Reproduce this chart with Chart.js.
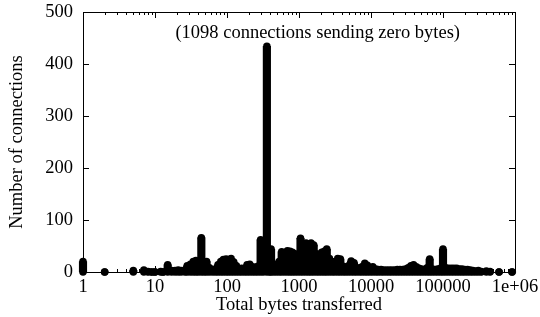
<!DOCTYPE html>
<html>
<head>
<meta charset="utf-8">
<script src="https://cdn.jsdelivr.net/npm/chart.js@4.4.1/dist/chart.umd.min.js"></script>
<style>
  html, body { margin: 0; padding: 0; background: #fff; }
  #wrap { width: 540px; height: 317px; }
</style>
</head>
<body>
<div id="wrap"><canvas id="bytesChart" width="540" height="317"></canvas></div>
<script>
// histogram of total bytes per connection (x = bytes, y = number of connections)
const bytes = [
    1, 2, 5, 7, 8, 9, 10, 12, 13, 15,
    17, 19, 21, 23, 26, 28, 31, 34, 37, 40,
    44, 48, 52, 57, 63, 69, 75, 82, 89, 97,
    105, 114, 124, 135, 147, 160, 175, 190, 207, 226,
    246, 268, 293, 320, 358, 390, 409, 445, 485, 530,
    575, 630, 690, 750, 810, 880, 960, 1049, 1140, 1250,
    1360, 1470, 1600, 1750, 1900, 2070, 2250, 2430, 2650, 2900,
    3150, 3450, 3750, 4100, 4450, 4850, 5300, 5800, 6300, 6900,
    7500, 8200, 8900, 9700, 10600, 11600, 12600, 13800, 15000, 16400,
    17900, 19500, 21300, 23200, 25300, 27600, 30100, 32800, 35800, 39000,
    42600, 46400, 50600, 55200, 60200, 65300, 71000, 77500, 84500, 92200,
    100000, 109000, 119000, 130000, 142000, 155000, 169000, 184000, 200000, 219000,
    239000, 260000, 284000, 310000, 340000, 400000, 450000, 600000, 910000
];
const connections = [
    20, 0, 3, 4, 1, 0, 0, 1, 0, 14,
    3, 3, 4, 3, 4, 12, 15, 20, 22, 18,
    66, 16, 20, 8, 5, 6, 14, 20, 24, 25,
    24, 26, 19, 12, 6, 7, 5, 14, 15, 10,
    9, 11, 62, 16, 434, 20, 44, 12, 15, 20,
    39, 36, 41, 40, 38, 35, 33, 65, 38, 56,
    54, 56, 52, 35, 30, 38, 40, 44, 26, 20,
    18, 26, 25, 11, 9, 12, 21, 18, 7, 8,
    10, 17, 13, 8, 10, 6, 5, 5, 4, 4,
    4, 4, 4, 5, 5, 5, 6, 8, 12, 14,
    10, 7, 6, 5, 8, 25, 6, 5, 6, 7,
    44, 8, 7, 7, 7, 7, 6, 6, 5, 5,
    4, 3, 2, 3, 1, 2, 1, 0, 0
];
const xTickValues = [1, 10, 100, 1000, 10000, 100000, 1000000];
const xTickLabels = ['1', '10', '100', '1000', '10000', '100000', '1e+06'];
const noteText = '(1098 connections sending zero bytes)';
const noteAt = { x: 1820, y: 460 };

const serif = { family: '"Liberation Serif", "Times New Roman", serif', size: 18.5 };
const lineW = 7.5;

// gnuplot-like frame: box, inward ticks on all four sides, and the note
const framePlugin = {
    id: 'frame',
    afterDraw(chart) {
        const { ctx, chartArea: a, scales: { x, y } } = chart;
        ctx.save();
        ctx.strokeStyle = '#000';
        ctx.lineWidth = 1;
        ctx.beginPath();
        ctx.rect(Math.round(a.left) + 0.5, Math.round(a.top) + 0.5,
                 Math.round(a.right - a.left), Math.round(a.bottom - a.top));
        y.ticks.forEach(t => {
            const py = Math.round(y.getPixelForValue(t.value)) + 0.5;
            ctx.moveTo(a.left, py); ctx.lineTo(a.left + 6, py);
            ctx.moveTo(a.right, py); ctx.lineTo(a.right - 6, py);
        });
        x.ticks.forEach(t => {
            const v = t.value;
            const mant = v / Math.pow(10, Math.floor(Math.log10(v) + 1e-9));
            if (Math.abs(mant - Math.round(mant)) > 1e-6) return;
            const len = Math.round(mant) === 1 ? 6 : 3;
            const px = Math.round(x.getPixelForValue(v)) + 0.5;
            ctx.moveTo(px, a.bottom); ctx.lineTo(px, a.bottom - len);
            ctx.moveTo(px, a.top); ctx.lineTo(px, a.top + len);
        });
        ctx.stroke();

        ctx.fillStyle = '#000';
        ctx.font = serif.size + 'px ' + serif.family;
        ctx.textAlign = 'center';
        ctx.textBaseline = 'middle';
        ctx.fillText(noteText, x.getPixelForValue(noteAt.x), y.getPixelForValue(noteAt.y));
        ctx.restore();
    }
};

document.addEventListener('DOMContentLoaded', function () {
    const ctx = document.getElementById('bytesChart').getContext('2d');
    const tops = bytes.map((b, i) => ({ x: b, y: connections[i] }));
    const bases = bytes.map(b => ({ x: b, y: 0 }));

    new Chart(ctx, {
        type: 'bar',
        data: {
            datasets: [{
                label: 'impulses',
                data: tops,
                backgroundColor: '#000',
                borderWidth: 0,
                barThickness: lineW,
                clip: false
            }, {
                type: 'scatter',
                label: 'caps',
                data: tops,
                backgroundColor: '#000',
                borderWidth: 0,
                pointRadius: lineW / 2,
                pointHoverRadius: lineW / 2,
                clip: false
            }, {
                type: 'scatter',
                label: 'base caps',
                data: bases,
                backgroundColor: '#000',
                borderWidth: 0,
                pointRadius: lineW / 2,
                pointHoverRadius: lineW / 2,
                clip: false
            }]
        },
        options: {
            responsive: false,
            animation: false,
            layout: { padding: { left: 0, right: 25, top: 12, bottom: 0 } },
            plugins: { legend: { display: false }, tooltip: { enabled: false } },
            scales: {
                x: {
                    type: 'logarithmic',
                    min: 1,
                    max: 1000000,
                    offset: false,
                    grid: { display: false, offset: false, drawTicks: false },
                    border: { display: false },
                    ticks: {
                        autoSkip: false,
                        maxRotation: 0,
                        minRotation: 0,
                        padding: 4,
                        color: '#000',
                        font: serif,
                        callback: function (value) {
                            const i = xTickValues.indexOf(value);
                            return i >= 0 ? xTickLabels[i] : '';
                        }
                    },
                    title: {
                        display: true,
                        text: 'Total bytes transferred',
                        color: '#000',
                        font: serif,
                        padding: { top: 0, bottom: 1 }
                    },
                    afterFit: function (scale) {
                        scale.height = 45;
                        scale.paddingLeft = 0;
                        scale.paddingRight = 0;
                    }
                },
                y: {
                    min: 0,
                    max: 500,
                    grid: { display: false, drawTicks: false },
                    border: { display: false },
                    ticks: { stepSize: 100, padding: 10, color: '#000', font: serif },
                    title: {
                        display: true,
                        text: 'Number of connections',
                        color: '#000',
                        font: serif,
                        padding: { top: 6, bottom: 0 }
                    },
                    afterFit: function (scale) {
                        scale.width = 83;
                        scale.paddingTop = 0;
                        scale.paddingBottom = 0;
                    }
                }
            }
        },
        plugins: [framePlugin]
    });
});
</script>
</body>
</html>
